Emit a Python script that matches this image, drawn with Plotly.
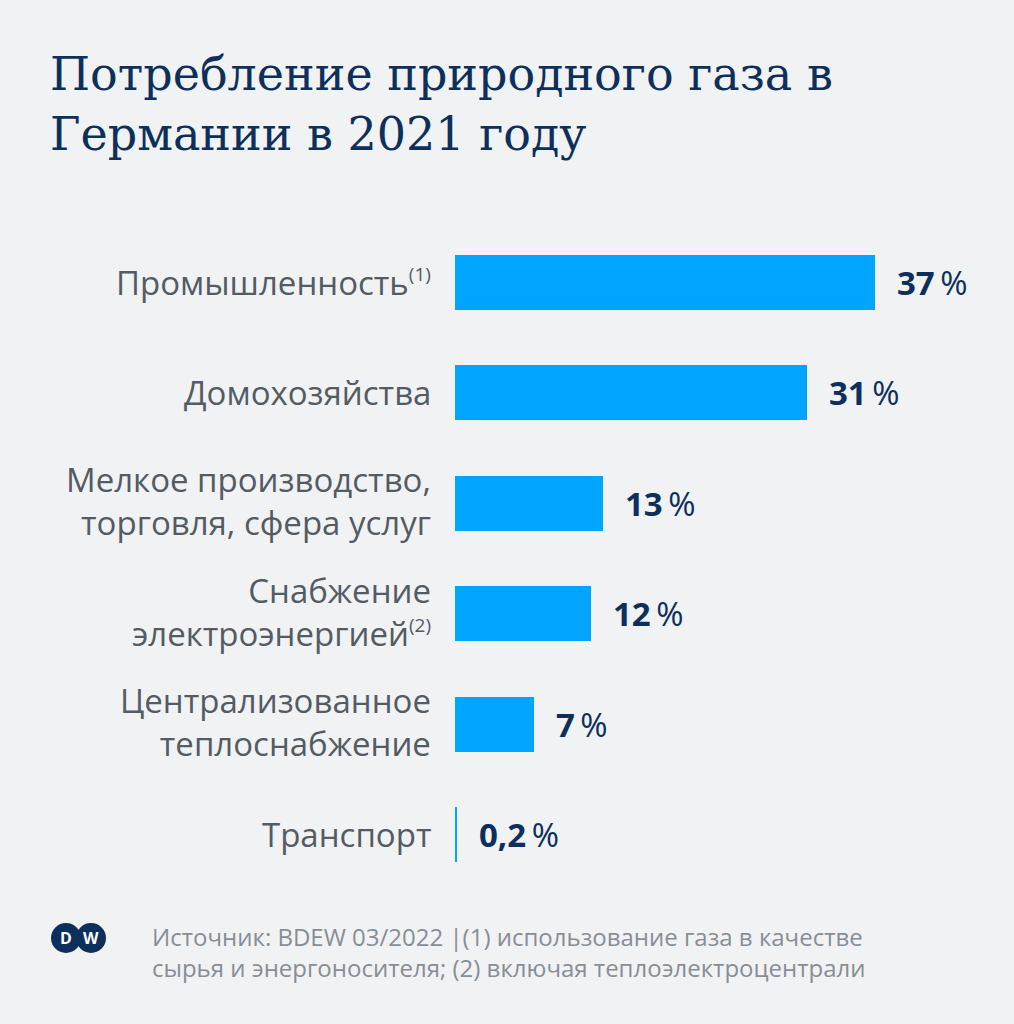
import plotly.graph_objects as go

SUP = "<sup><span style='font-size:19px'>{}</span></sup>"

categories = [
    "Промышленность" + SUP.format("(1)"),
    "Домохозяйства",
    "Мелкое производство,<br>торговля, сфера услуг",
    "Снабжение<br>электроэнергией" + SUP.format("(2)"),
    "Централизованное<br>теплоснабжение",
    "Транспорт",
]
values = [37, 31, 13, 12, 7, 0.2]
value_labels = ["37", "31", "13", "12", "7", "0,2"]

BG = "#f1f2f4"
BAR = "#00a5ff"
NAVY = "#0c2f5c"
GRAY = "#535b63"
FOOT = "#878e96"

W, H = 1014, 1024
ML, MT, MB = 455, 227, 134
px_per_unit = 420 / 37
xmax = (W - ML) / px_per_unit

ypos = list(range(len(categories)))

fig = go.Figure()
fig.add_trace(go.Bar(
    x=values, y=ypos, orientation="h",
    marker=dict(color=BAR, line=dict(width=0)),
    width=55 / 110.6, hoverinfo="skip",
))

LABEL_FONT = "Open Sans, Noto Sans, sans-serif"
annotations = []
for i, (c, v, lbl) in enumerate(zip(categories, values, value_labels)):
    annotations.append(dict(
        x=0, y=i, xref="x", yref="y", text=c, showarrow=False,
        xanchor="right", yanchor="middle", xshift=-22, align="right",
        yshift=2 if "<br>" in c else 0,
        font=dict(family=LABEL_FONT, size=33, color=GRAY),
    ))
    annotations.append(dict(
        x=v, y=i, xref="x", yref="y",
        text=f"<b>{lbl}</b>\u2009%", showarrow=False,
        xanchor="left", yanchor="middle", xshift=20,
        font=dict(family=LABEL_FONT, size=33, color=NAVY),
    ))

fig.update_layout(
    width=W, height=H,
    paper_bgcolor=BG, plot_bgcolor=BG,
    margin=dict(l=ML, r=0, t=MT, b=MB, pad=0),
    showlegend=False,
    xaxis=dict(range=[0, xmax], visible=False, fixedrange=True),
    yaxis=dict(range=[len(categories) - 0.5, -0.5], visible=False, fixedrange=True),
    bargap=0,
    annotations=annotations,
)

def px_x(p):
    return (p - ML) / (W - ML)

def px_y(p):
    return (H - MB - p) / (H - MT - MB)

fig.add_annotation(
    x=px_x(48), y=px_y(45), xref="paper", yref="paper",
    text="Потребление природного газа в<br>Германии в 2021 году",
    showarrow=False, xanchor="left", yanchor="top", align="left",
    font=dict(family="DejaVu Serif, Liberation Serif, serif", size=46, color=NAVY),
)

fig.add_annotation(
    x=px_x(150), y=px_y(918), xref="paper", yref="paper",
    text="Источник: BDEW 03/2022 |(1) использование газа в качестве<br>сырья и энергоносителя; (2) включая теплоэлектроцентрали",
    showarrow=False, xanchor="left", yanchor="top", align="left",
    font=dict(family="Open Sans, sans-serif", size=24, color=FOOT),
)

# DW logo
for cx in [66, 91]:
    fig.add_shape(
        type="circle", xref="paper", yref="paper",
        x0=px_x(cx - 15), x1=px_x(cx + 15), y0=px_y(953), y1=px_y(923),
        fillcolor=NAVY, line=dict(width=0),
    )
for cx, letter in [(66, "D"), (91, "W")]:
    fig.add_annotation(
        x=px_x(cx), y=px_y(938), xref="paper", yref="paper",
        text=f"<b>{letter}</b>", showarrow=False, xanchor="center", yanchor="middle",
        font=dict(family="Open Sans, sans-serif", size=16, color="white"),
    )

fig.write_html(
    "out.html",
    config={"displayModeBar": False},
    post_script="document.body.style.margin='0';document.body.style.background='#f1f2f4';",
)
